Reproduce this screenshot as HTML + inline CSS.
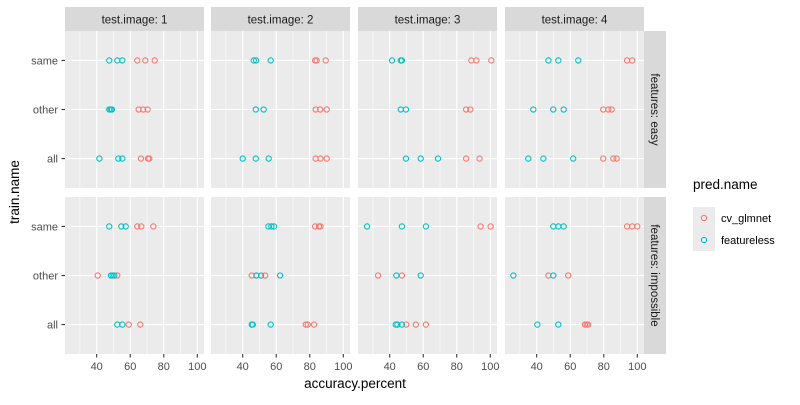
<!DOCTYPE html>
<html><head><meta charset="utf-8"><style>
body{margin:0;background:#fff;}
svg text{font-family:"Liberation Sans",Arial,sans-serif;}
</style></head><body>
<svg id="chart" width="800" height="400" xmlns="http://www.w3.org/2000/svg"></svg>
<script>
const testImages = ["1","2","3","4"];
const featureRows = ["easy","impossible"];
const trainNames = ["same","other","all"];
const xTicks = [40,60,80,100];
const seriesNames = ["cv_glmnet","featureless"];
// values[row][col][trainName] -> [cv_glmnet values, featureless values]
const glmEasy = [
 {same:[64.2,69,74.6], other:[65,67.8,70.4], all:[66.4,70.6,71.4]},
 {same:[83.2,84.1,89.5], other:[83.5,86.2,90.1], all:[83.5,86.4,90.1]},
 {same:[88.7,91.7,100.6], other:[85.6,88.1], all:[85.6,93.6]},
 {same:[93.9,97], other:[79.7,82.7,84.7], all:[79.7,85.7,87.7]}
];
const featEasy = [
 {same:[47.5,52.3,55.3], other:[47.5,48.3,49.1], all:[41.6,52.9,55.3]},
 {same:[46.6,48,56.7], other:[47.8,52.5], all:[40,47.8,55.5]},
 {same:[41.4,46.6,47.3], other:[46.6,49.7], all:[49.7,58.5,68.8]},
 {same:[47,52.9,64.8], other:[38,49.9,56.1], all:[35,44,61.8]}
];
const glmImp = [
 {same:[64.2,66.6,73.8], other:[40.6,52.3], all:[59.1,66.0]},
 {same:[83.2,85.5,86.4], other:[45.4,48.2,53.4], all:[77.6,78.8,82.6]},
 {same:[94.2,100.2], other:[33.1,47.3], all:[49.9,55.6,61.6]},
 {same:[93.9,97,100], other:[47,58.8], all:[68.8,69.8,70.7]}
];
const featImp = [
 {same:[47.5,54.7,57.3], other:[48.5,49.5,50.5], all:[52.3,55.3]},
 {same:[55.3,57.1,58.7], other:[48.2,51,62.3], all:[45.4,46,56.7]},
 {same:[26.5,47.3,61.6], other:[44,58.5], all:[43.6,44.6,47.3]},
 {same:[49.9,52.9,56.1], other:[26.1,49.9], all:[40.4,52.9]}
];
const glmData=[glmEasy,glmImp], featData=[featEasy,featImp];
const colors=["#F8766D","#00BFC4"];
const svg=document.getElementById('chart');
const NS="http://www.w3.org/2000/svg";
function mk(tag,attrs,parent){const e=document.createElementNS(NS,tag);for(const k in attrs)e.setAttribute(k,attrs[k]);(parent||svg).appendChild(e);return e;}
const panelLeft=[65,211,358,505], panelW=139;
const rowTop=[31,197], panelH=157;
const xMin=21.1,xMax=104;
function xs(c,v){return panelLeft[c]+(v-xMin)/(xMax-xMin)*panelW;}
function ys(r,i){return rowTop[r]+(i+1-0.4)/3.2*panelH;}
// strips top
testImages.forEach((t,c)=>{
 const g=mk('g',{});
 
 
 mk('rect',{x:panelLeft[c],y:7,width:panelW,height:24,fill:'#D9D9D9'},g);
 const tx=mk('text',{x:panelLeft[c]+panelW/2,y:23.5,'text-anchor':'middle','font-size':11.5,fill:'#1A1A1A'},g);
 tx.textContent='test.image: '+t;
});
featureRows.forEach((f,r)=>{
 const g=mk('g',{});
 
 
 mk('rect',{x:644,y:rowTop[r],width:22,height:panelH,fill:'#D9D9D9'},g);
 const cx=655,cy=rowTop[r]+panelH/2;
 const tx=mk('text',{x:cx,y:cy,'text-anchor':'middle','font-size':11.5,fill:'#1A1A1A',transform:`rotate(90 ${cx} ${cy})`,dy:4},g);
 tx.textContent='features: '+f;
});
for(let r=0;r<2;r++)for(let c=0;c<4;c++){
 const g=mk('g',{});
 
 
 mk('rect',{x:panelLeft[c],y:rowTop[r],width:panelW,height:panelH,fill:'#EBEBEB'},g);
 [30,50,70,90].forEach(v=>mk('line',{x1:xs(c,v),x2:xs(c,v),y1:rowTop[r],y2:rowTop[r]+panelH,stroke:'#fff','stroke-width':0.55},g));
 xTicks.forEach(v=>mk('line',{x1:xs(c,v),x2:xs(c,v),y1:rowTop[r],y2:rowTop[r]+panelH,stroke:'#fff','stroke-width':1.1},g));
 trainNames.forEach((n,i)=>mk('line',{x1:panelLeft[c],x2:panelLeft[c]+panelW,y1:ys(r,i),y2:ys(r,i),stroke:'#fff','stroke-width':1.1},g));
 trainNames.forEach((n,i)=>{
  [glmData,featData].forEach((D,s)=>{
   D[r][c][n].forEach(v=>{
    const p=mk('circle',{cx:xs(c,v),cy:ys(r,i),r:2.6,fill:'none',stroke:colors[s],'stroke-width':1.1},g);
    
    
   });
  });
 });
}
// y axis labels
for(let r=0;r<2;r++)trainNames.forEach((n,i)=>{
 mk('line',{x1:61.5,x2:65,y1:ys(r,i),y2:ys(r,i),stroke:'#333','stroke-width':1.1});
 const t=mk('text',{x:58,y:ys(r,i)+4,'text-anchor':'end','font-size':11,fill:'#4D4D4D'});
 
 
 t.textContent=n;
});
// x axis labels
for(let c=0;c<4;c++)xTicks.forEach(v=>{
 mk('line',{x1:xs(c,v),x2:xs(c,v),y1:354,y2:357.5,stroke:'#333','stroke-width':1.1});
 const t=mk('text',{x:xs(c,v),y:370,'text-anchor':'middle','font-size':11,fill:'#4D4D4D'});
 
 
 t.textContent=v;
});
const xt=mk('text',{x:355,y:388,'text-anchor':'middle','font-size':13.5,fill:'#000'});
xt.textContent='accuracy.percent';
const yt=mk('text',{x:19,y:192,'text-anchor':'middle','font-size':13.5,fill:'#000',transform:'rotate(-90 19 192)'});
yt.textContent='train.name';
// legend
const lg=mk('g',{});

const lt=mk('text',{x:693,y:189,'font-size':13.5,fill:'#000'},lg);lt.textContent='pred.name';
seriesNames.forEach((s,i)=>{
 const y=207+i*22;
 mk('rect',{x:693,y:y,width:22,height:22,fill:'#EBEBEB'},lg);
 mk('circle',{cx:704,cy:y+11,r:2.6,fill:'none',stroke:colors[i],'stroke-width':1.1},lg);
 const t=mk('text',{x:721,y:y+15,'font-size':11,fill:'#000'},lg);
 
 t.textContent=s;
});
</script>
</body></html>
